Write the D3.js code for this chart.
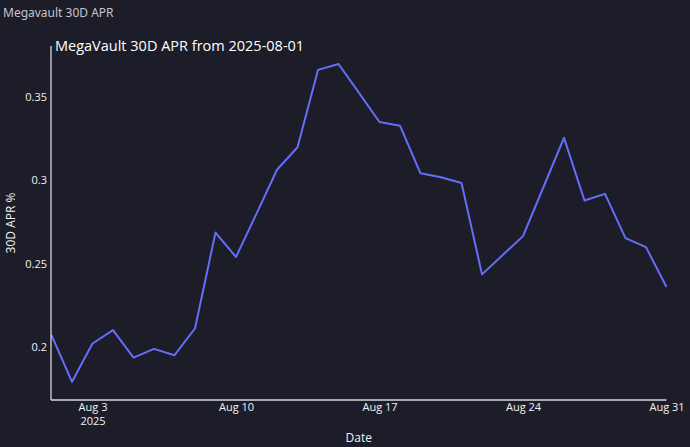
<!DOCTYPE html>
<html>
<head>
<meta charset="utf-8">
<script src="https://cdn.jsdelivr.net/npm/d3@7"></script>
<style>
  html, body { margin: 0; padding: 0; background: #1d1c29; }
  svg { display: block; }
</style>
</head>
<body>
<svg id="chart" width="690" height="447"></svg>
<script>
const pageTitle = "Megavault 30D APR";
const chartTitle = "MegaVault 30D APR from 2025-08-01";
const xLabel = "Date";
const yLabel = "30D APR %";

const dates = [
  "2025-08-01","2025-08-02","2025-08-03","2025-08-04","2025-08-05","2025-08-06",
  "2025-08-07","2025-08-08","2025-08-09","2025-08-10","2025-08-11","2025-08-12",
  "2025-08-13","2025-08-14","2025-08-15","2025-08-16","2025-08-17","2025-08-18",
  "2025-08-19","2025-08-20","2025-08-21","2025-08-22","2025-08-23","2025-08-24",
  "2025-08-25","2025-08-26","2025-08-27","2025-08-28","2025-08-29","2025-08-30",
  "2025-08-31"
];
const apr = [
  0.2072, 0.1793, 0.2022, 0.2102, 0.1938, 0.1990,
  0.1952, 0.2112, 0.2686, 0.2540, 0.2800, 0.3062,
  0.3197, 0.3660, 0.3695, 0.3522, 0.3348, 0.3326,
  0.3041, 0.3017, 0.2983, 0.2436, 0.2551, 0.2665,
  0.2959, 0.3253, 0.2878, 0.2918, 0.2653, 0.2599,
  0.2360
];
const yTicks = [0.2, 0.25, 0.3, 0.35];
const yTickLabels = ["0.2", "0.25", "0.3", "0.35"];
const xTickDates = ["2025-08-03","2025-08-10","2025-08-17","2025-08-24","2025-08-31"];
const xTickLabels = [["Aug 3","2025"],["Aug 10"],["Aug 17"],["Aug 24"],["Aug 31"]];

(function () {
const parse = d3.utcParse("%Y-%m-%d");
const data = dates.map((d, i) => ({ date: parse(d), value: apr[i] }));

const svg = d3.select("#chart");
const mLeft = 51, mRight = 666.5, mTop = 46, mBottom = 400;

const x = d3.scaleUtc()
  .domain([parse(dates[0]), parse(dates[dates.length - 1])])
  .range([mLeft + 0.5, mRight]);
const y = d3.scaleLinear().domain([0.1684, 0.3803]).range([mBottom, mTop]);

const textColor = "#f2f2f2";
const axisColor = "#d8d8de";

// page header
svg.append("text")
  .attr("x", 3).attr("y", 17)
  .attr("fill", "#c4c4cc")
  .attr("font-family", "Noto Sans, Open Sans, sans-serif")
  .attr("font-size", 12)
  .text(pageTitle);

// line
const line = d3.line().x(d => x(d.date)).y(d => y(d.value));
svg.append("path")
  .datum(data)
  .attr("d", line)
  .attr("fill", "none")
  .attr("stroke", "#636efa")
  .attr("stroke-width", 2)
  .attr("stroke-linejoin", "round");

// y axis
const yAxis = d3.axisLeft(y)
  .tickValues(yTicks)
  .tickFormat((d, i) => yTickLabels[i])
  .tickSize(0)
  .tickPadding(4);
const gy = svg.append("g").attr("transform", `translate(${mLeft},0)`).call(yAxis);
gy.select(".domain").remove();
gy.selectAll("text")
  .attr("fill", textColor)
  .attr("font-family", "Open Sans, sans-serif")
  .attr("font-size", 11);

// x axis
const xAxis = d3.axisBottom(x)
  .tickValues(xTickDates.map(parse))
  .tickFormat("")
  .tickSize(0);
const gx = svg.append("g").attr("transform", `translate(0,${mBottom})`).call(xAxis);
gx.select(".domain").remove();
gx.selectAll(".tick").each(function(d, i) {
  const t = d3.select(this).append("text")
    .attr("fill", textColor)
    .attr("font-family", "Open Sans, sans-serif")
    .attr("font-size", 11)
    .attr("text-anchor", "middle")
    .attr("y", 3);
  xTickLabels[i].forEach((s, j) => {
    t.append("tspan").attr("x", 0).attr("dy", j === 0 ? "0.71em" : "1.25em").text(s);
  });
});

// axis lines
svg.append("line")
  .attr("x1", mLeft).attr("x2", mLeft)
  .attr("y1", mTop).attr("y2", mBottom)
  .attr("stroke", axisColor).attr("stroke-width", 1.3);
svg.append("line")
  .attr("x1", mLeft).attr("x2", mRight)
  .attr("y1", mBottom).attr("y2", mBottom)
  .attr("stroke", axisColor).attr("stroke-width", 1.3);

// chart title
svg.append("text")
  .attr("x", 55).attr("y", 51)
  .attr("fill", "#ffffff")
  .attr("font-family", "Open Sans, sans-serif")
  .attr("font-size", 14.5)
  .text(chartTitle);

// axis titles
svg.append("text")
  .attr("x", (mLeft + mRight) / 2).attr("y", 442)
  .attr("text-anchor", "middle")
  .attr("fill", textColor)
  .attr("font-family", "Open Sans, sans-serif")
  .attr("font-size", 12)
  .text(xLabel);
svg.append("text")
  .attr("transform", `translate(15,${(mTop + mBottom) / 2}) rotate(-90)`)
  .attr("text-anchor", "middle")
  .attr("fill", textColor)
  .attr("font-family", "Open Sans, sans-serif")
  .attr("font-size", 12)
  .text(yLabel);
})();
</script>
</body>
</html>
